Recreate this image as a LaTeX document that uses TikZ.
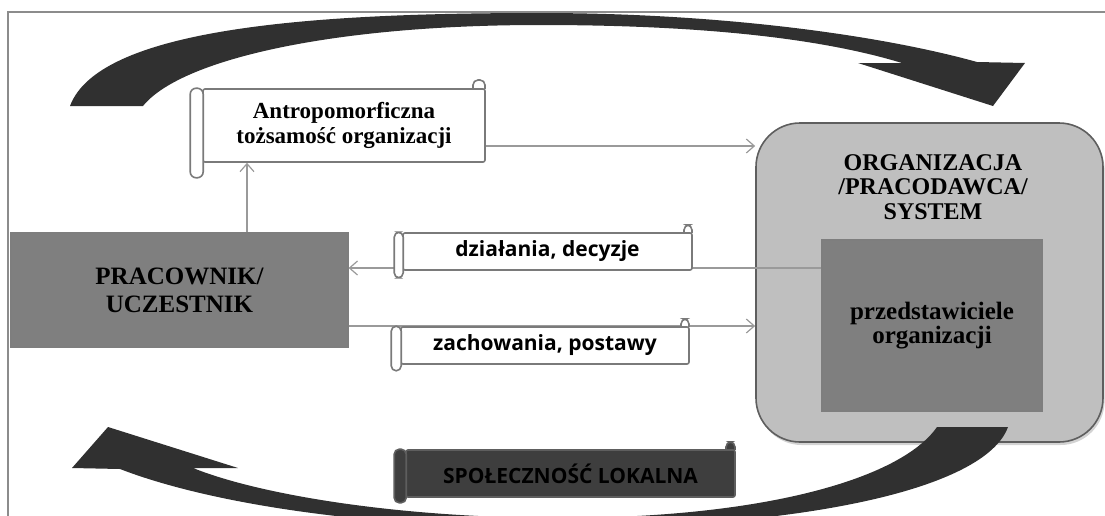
\documentclass[tikz,border=0pt]{standalone}
\usepackage{fontspec}
\setmainfont{Liberation Serif}
\newfontfamily\scrollfont{Open Sans}
\usetikzlibrary{arrows.meta, calc, shadows}
\definecolor{darkarrow}{HTML}{303030}
\definecolor{framegray}{HTML}{8C8C8C}
\definecolor{conngray}{HTML}{9A9A9A}
\definecolor{scrollgray}{HTML}{7A7A7A}
\definecolor{midgray}{HTML}{7F7F7F}
\definecolor{lightgray}{HTML}{BFBFBF}
\definecolor{edgegray}{HTML}{5E5E5E}
\definecolor{darkscroll}{HTML}{3E3E3E}

\tikzset{
  conn/.style={draw=conngray, line width=0.6pt, -{Straight Barb[length=4pt, width=7pt]}},
  scrollbody/.style={draw=scrollgray, line width=0.8pt, fill=white, rounded corners=1pt, inner sep=0pt, align=center},
  scrollline/.style={draw=scrollgray, line width=0.8pt},
  workbox/.style={draw=edgegray!80, fill=midgray, line width=0.6pt, align=center, font=\fontsize{12.5}{14}\selectfont\bfseries},
  orgbox/.style={draw=edgegray, fill=lightgray, line width=0.8pt, rounded corners=22pt, drop shadow={shadow xshift=0.8pt, shadow yshift=-1.5pt, opacity=0.35}},
  innerbox/.style={draw=edgegray!80, fill=midgray, line width=0.6pt, align=center, font=\fontsize{12.5}{12}\selectfont\bfseries},
  titletext/.style={align=center, font=\fontsize{12}{12.3}\selectfont\bfseries},
}

\begin{document}
\begin{tikzpicture}[x=0.5pt, y=-0.5pt]
  \useasboundingbox (0,0) rectangle (1105,515);
  \clip (0,0) rectangle (1105,515);

  % frame
  \draw[framegray, line width=1pt] (8,520) -- (8,12) -- (1110,12);

  % upper curved arrow
  \fill[darkarrow] (70,106) .. controls (100,25) and (330,13) .. (540,13)
    .. controls (720,13) and (880,35) .. (977,62) -- (1025,63) -- (993,106) -- (858,63) -- (902,63)
    .. controls (820,38) and (700,25) .. (540,25) .. controls (330,25) and (180,60) .. (143,106) -- cycle;

  % Antropomorficzna
  \draw[scrollline, fill=white, rounded corners=2.5pt] (473,89) -- (473,80) -- (485,80) -- (485,89);
  \node[scrollbody, minimum width=141pt, minimum height=36.5pt, font=\fontsize{11.5}{12.5}\selectfont\bfseries] (antro) at (344,125.5)
    {Antropomorficzna\\tożsamość organizacji};
  \draw[scrollline, fill=white, rounded corners=3pt] ($(antro.north west)+(-12,0)$) rectangle ($(antro.south west)+(1,15)$);

  % Pracownik
  \node[workbox, minimum width=168.5pt, minimum height=57pt] (pracownik) at (179.5,290) {PRACOWNIK/\\UCZESTNIK};

  % Organizacja
  \node[orgbox, minimum width=173.5pt, minimum height=159.5pt] (org) at (929.5,282.5) {};
  \node[titletext] (orgtitle) at (933,187) {ORGANIZACJA\\/PRACODAWCA/\\SYSTEM};
  \node[innerbox, minimum width=110pt, minimum height=85.5pt] (przed) at (932,325.5) {przedstawiciele\\organizacji};

  % connectors
  \coordinate (upline) at (247,0);
  \coordinate (topline) at (0,146);
  \coordinate (midline) at (0,268);
  \coordinate (lowline) at (0,326);
  \draw[conn] (upline |- pracownik.north) -- (upline |- antro.south);
  \draw[conn] (antro.east |- topline) -- (org.west |- topline);
  \draw[conn] (przed.west |- midline) -- (pracownik.east |- midline);
  \draw[conn] (pracownik.east |- lowline) -- (org.west |- lowline);

  % dzialania / zachowania
  \draw[scrollline, fill=white, rounded corners=2.5pt] (684,233) -- (684,225) -- (692,225) -- (692,233);
  \node[scrollbody, minimum width=144.5pt, minimum height=18.5pt, font=\scrollfont\fontsize{10.5}{11}\selectfont\bfseries] (dzial) at (547.5,251.5) {działania, decyzje};
  \draw[scrollline, fill=white, rounded corners=2.5pt] ($(dzial.north west)+(-8,0)$) rectangle ($(dzial.south west)+(1,7)$);

  \draw[scrollline, fill=white, rounded corners=2.5pt] (681,327) -- (681,319) -- (689,319) -- (689,327);
  \node[scrollbody, minimum width=144pt, minimum height=18.5pt, font=\scrollfont\fontsize{10.5}{11}\selectfont\bfseries] (zach) at (545,345.5) {zachowania, postawy};
  \draw[scrollline, fill=white, rounded corners=2.5pt] ($(zach.north west)+(-9,0)$) rectangle ($(zach.south west)+(1,6)$);

  % lower curved arrow
  \fill[darkarrow] (1008,427) .. controls (985,490) and (800,528) .. (560,528)
    .. controls (350,528) and (200,500) .. (120,469) -- (72,468) -- (108,427) -- (238,468) -- (193,468)
    .. controls (260,495) and (400,518) .. (560,518) .. controls (760,518) and (900,480) .. (937,427) -- cycle;

  % Spolecznosc
  \draw[scrollline, draw=edgegray, fill=darkscroll, rounded corners=2.5pt] (726,450) -- (726,442) -- (735,442) -- (735,450);
  \node[scrollbody, draw=edgegray, fill=darkscroll, minimum width=164.5pt, minimum height=23.5pt, font=\scrollfont\fontsize{10.5}{12}\selectfont\bfseries] (spol) at (570.5,473.5) {SPOŁECZNOŚĆ LOKALNA};
  \draw[scrollline, draw=edgegray, fill=darkscroll, rounded corners=2.5pt] ($(spol.north west)+(-11,0)$) rectangle ($(spol.south west)+(1,5)$);
\end{tikzpicture}
\end{document}
